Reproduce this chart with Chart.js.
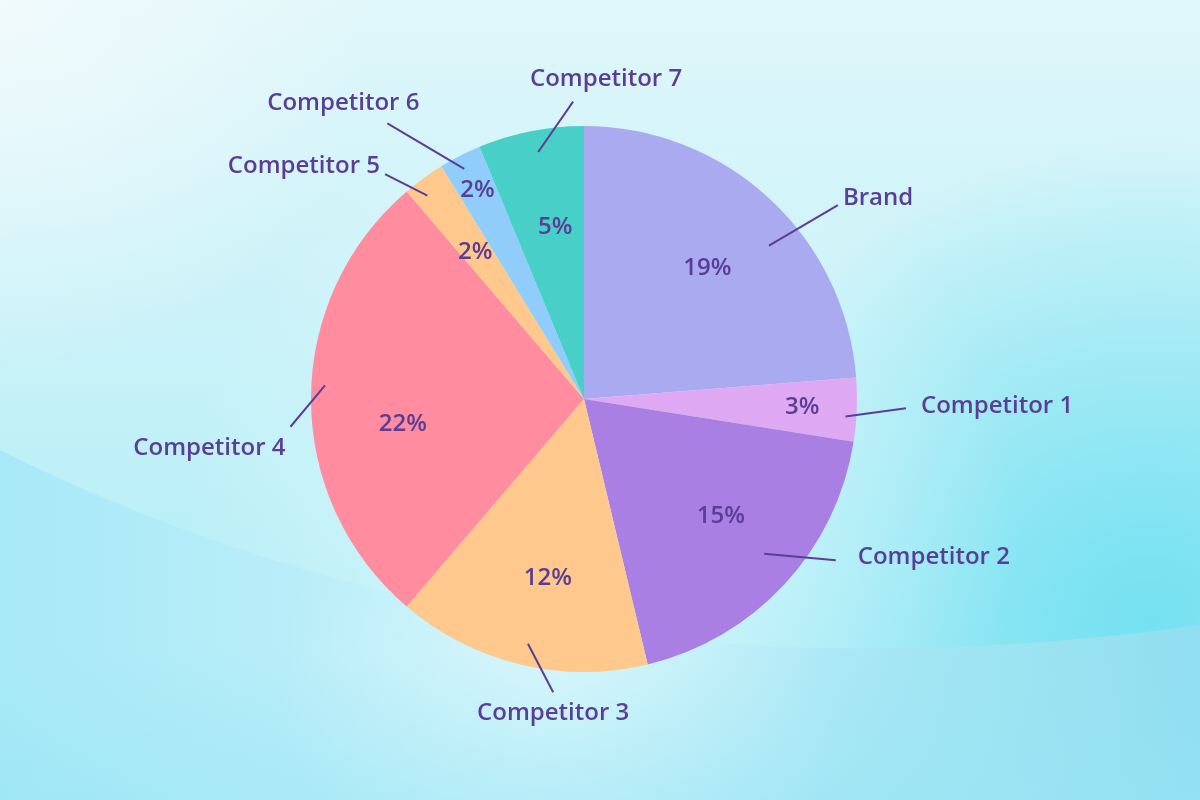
<!DOCTYPE html>
<html>
<head>
<meta charset="utf-8">
<script src="https://cdn.jsdelivr.net/npm/chart.js@4.4.0/dist/chart.umd.min.js"></script>
<style>
    html, body { margin: 0; padding: 0; }
    #wrap { width: 1200px; height: 800px; }
</style>
</head>
<body>
<div id="wrap"><canvas id="shareChart" width="1200" height="800"></canvas></div>
<script>
// Chart data
const sliceLabels = ['Brand', 'Competitor 1', 'Competitor 2', 'Competitor 3', 'Competitor 4', 'Competitor 5', 'Competitor 6', 'Competitor 7'];
const shareValues = [19, 3, 15, 12, 22, 2, 2, 5];

// Styling
const sliceColors = ['#aaaaf0', '#dea9f2', '#a97fe3', '#ffc98e', '#ff8c9f', '#ffc98e', '#90cdfa', '#48cfc8'];
const textColor = '#5a3e95';

// Label layout per slice: [angle offset from slice middle (deg), radius factor]
const labelLayout = [
    { pct: [0.5, 0.66],   from: [7.6, 0.88],  to: [9.9, 1.17],    text: [5, -7, 'left'] },
    { pct: [0, 0.80],     from: [1.6, 0.96],  to: [-0.6, 1.18],   text: [15, -2, 'left'] },
    { pct: [-2.2, 0.66],  from: [-2.1, 0.87], to: [-10.1, 1.095], text: [22, -3, 'left'] },
    { pct: [-2.1, 0.67],  from: [-0.6, 0.92], to: [-7.5, 1.08],   text: [0, 21, 'center'] },
    { pct: [-8, 0.67],    from: [3, 0.95],    to: [-5.4, 1.08],   text: [-5, 21, 'right'] },
    { pct: [-0.5, 0.67],  from: [-1.6, 0.94], to: [-5.5, 1.10],   text: [-5, -8, 'right'] },
    { pct: [0, 0.86],     from: [-0.5, 0.95], to: [-8.5, 1.24],   text: [32, -20, 'right'] },
    { pct: [1.75, 0.64],  from: [0.75, 0.92], to: [9.15, 1.09],   text: [33, -22, 'center'] }
];

// Soft cyan background with a curved lower band
const backgroundPlugin = {
    id: 'softBackground',
    beforeDraw(chart) {
        const { ctx, width, height } = chart;
        const blob = (x, y, r, color, alpha) => {
            const g = ctx.createRadialGradient(x, y, 0, x, y, r);
            g.addColorStop(0, `rgba(${color},${alpha})`);
            g.addColorStop(1, `rgba(${color},0)`);
            ctx.fillStyle = g;
            ctx.fillRect(0, 0, width, height);
        };
        ctx.save();
        const base = ctx.createLinearGradient(0, 0, 0, 650);
        base.addColorStop(0, '#e0f7fa');
        base.addColorStop(1, '#b2edf6');
        ctx.fillStyle = base;
        ctx.fillRect(0, 0, width, height);
        blob(0, 0, 380, '245,251,253', 0.8);
        blob(1150, 620, 480, '112,224,241', 0.95);
        blob(600, 520, 420, '228,250,253', 0.75);

        ctx.beginPath();
        ctx.moveTo(0, 450);
        ctx.bezierCurveTo(300, 600, 700, 695, 1200, 625);
        ctx.lineTo(1200, 800);
        ctx.lineTo(0, 800);
        ctx.closePath();
        ctx.clip();
        const band = ctx.createLinearGradient(0, 0, width, 0);
        band.addColorStop(0, '#a8e9f7');
        band.addColorStop(0.45, '#c6f1f9');
        band.addColorStop(0.75, '#a5e6f4');
        band.addColorStop(1, '#90def0');
        ctx.fillStyle = band;
        ctx.fillRect(0, 0, width, height);
        blob(560, 690, 280, '222,248,252', 0.75);
        const shade = ctx.createLinearGradient(0, 650, 0, 800);
        shade.addColorStop(0, 'rgba(150,228,245,0)');
        shade.addColorStop(1, 'rgba(150,228,245,0.45)');
        ctx.fillStyle = shade;
        ctx.fillRect(0, 0, width, height);
        ctx.restore();
    }
};

// Percent labels inside slices and names with leader lines outside
const sliceLabelPlugin = {
    id: 'sliceLabels',
    afterDatasetsDraw(chart) {
        const ctx = chart.ctx;
        const meta = chart.getDatasetMeta(0);
        ctx.save();
        ctx.fillStyle = textColor;
        ctx.strokeStyle = textColor;
        ctx.lineWidth = 2;
        ctx.textBaseline = 'middle';
        ctx.font = '600 24px "Open Sans"';
        meta.data.forEach((arc, i) => {
            const p = arc.getProps(['x', 'y', 'startAngle', 'endAngle', 'outerRadius'], true);
            const mid = (p.startAngle + p.endAngle) / 2;
            const lay = labelLayout[i];
            const at = ([da, rf]) => {
                const a = mid + da * Math.PI / 180;
                return [p.x + Math.cos(a) * p.outerRadius * rf, p.y + Math.sin(a) * p.outerRadius * rf];
            };

            const pct = at(lay.pct);
            ctx.textAlign = 'center';
            ctx.fillText(shareValues[i] + '%', pct[0], pct[1]);

            const a = at(lay.from);
            const b = at(lay.to);
            ctx.beginPath();
            ctx.moveTo(a[0], a[1]);
            ctx.lineTo(b[0], b[1]);
            ctx.stroke();

            ctx.textAlign = lay.text[2];
            ctx.fillText(sliceLabels[i], b[0] + lay.text[0], b[1] + lay.text[1]);
        });
        ctx.restore();
    }
};

new Chart(document.getElementById('shareChart').getContext('2d'), {
    type: 'pie',
    data: {
        labels: sliceLabels,
        datasets: [{
            data: shareValues,
            backgroundColor: sliceColors,
            borderWidth: 0,
            hoverOffset: 0
        }]
    },
    options: {
        responsive: false,
        animation: false,
        events: [],
        layout: {
            padding: { top: 126, bottom: 128, left: 311, right: 343 }
        },
        plugins: {
            legend: { display: false },
            tooltip: { enabled: false }
        }
    },
    plugins: [backgroundPlugin, sliceLabelPlugin]
});
</script>
</body>
</html>
